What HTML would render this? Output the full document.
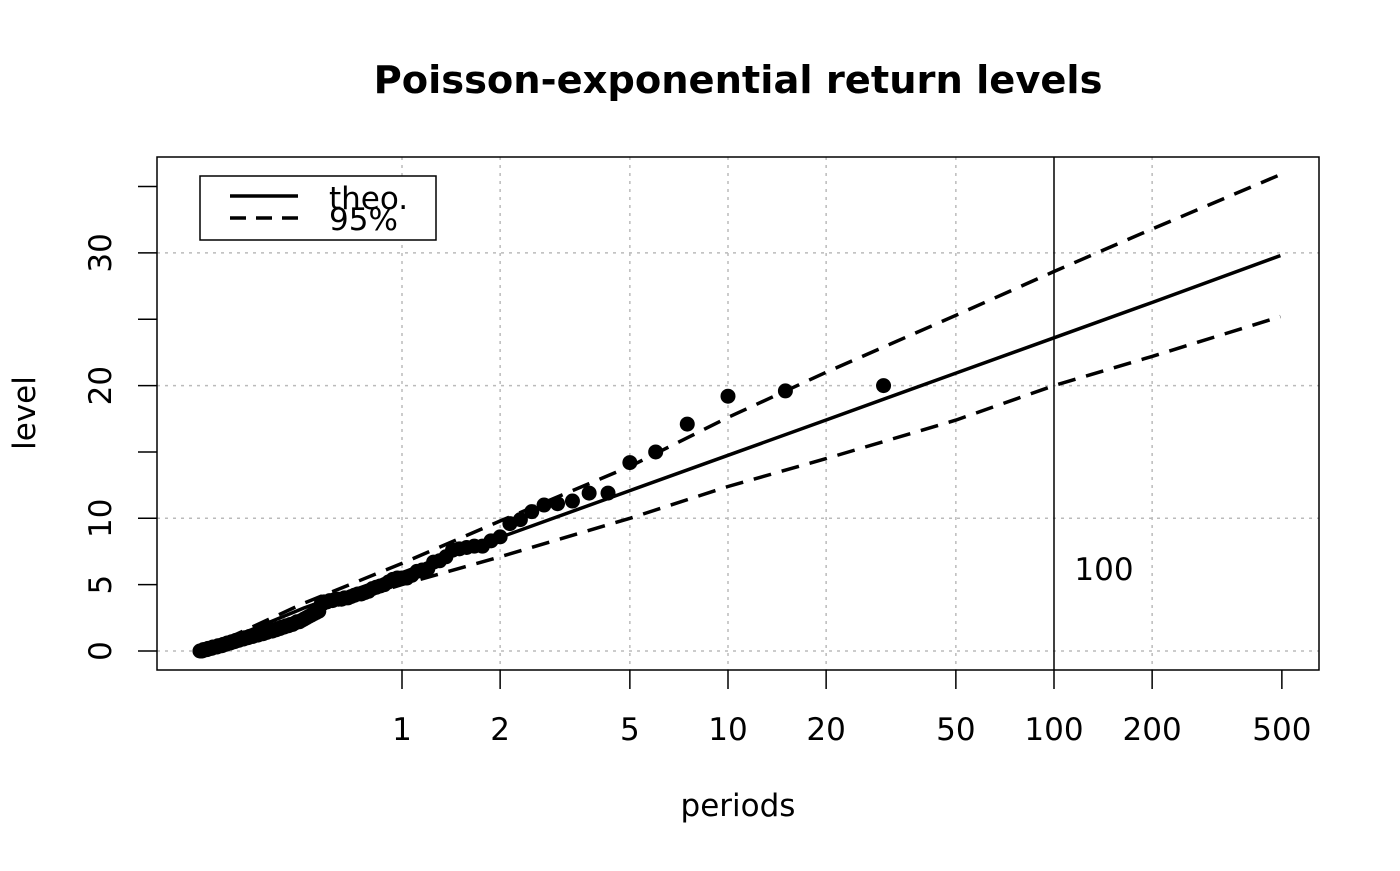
<!DOCTYPE html>
<html><head><meta charset="utf-8"><style>
body{margin:0;background:#fff}
svg text{font-family:"DejaVu Sans","Liberation Sans",sans-serif;fill:#000}
</style></head><body>
<svg id="chart" width="1400" height="866" viewBox="0 0 1400 866">
<text x="738" y="93" text-anchor="middle" font-size="38.4" font-weight="bold">Poisson-exponential return levels</text>
<g id="grid"></g>
<rect x="157" y="157" width="1162" height="513" fill="none" stroke="#000" stroke-width="1.5"/>
<g id="axes"></g>
<g id="lines"></g>
<g id="points"></g>
<text x="738" y="816" text-anchor="middle" font-size="31">periods</text>
<text transform="translate(35,413) rotate(-90)" text-anchor="middle" font-size="31">level</text>
<g>
<rect x="200" y="176" width="236" height="64" fill="#fff" stroke="#000" stroke-width="1.5"/>
<line x1="230" y1="196" x2="298" y2="196" stroke="#000" stroke-width="3.5"/>
<line x1="230" y1="218" x2="298" y2="218" stroke="#000" stroke-width="3.5" stroke-dasharray="16,10"/>
<text x="329" y="209" font-size="31">theo.</text>
<text x="329" y="230" font-size="31">95%</text>
</g>
</svg>
<script>
const nYears = 30;
const levels = [20.0,19.6,19.2,17.1,15.0,14.2,11.9,11.9,11.3,11.1,11.0,10.5,9.9,9.6,
8.6,8.3,7.9,7.9,7.8,7.7,7.6,7.1,6.8,6.7,6.2,6.1,6.0,5.7,5.5,5.5,5.5,5.4,5.2,5.0,4.9,4.8,4.7,4.5,4.4,4.3,4.3,4.2,4.1,4.0,4.0,3.9,3.9,3.9,3.8,3.8,3.7,3.7,3.6,3.0,2.9,2.8,2.7,2.6,2.5,2.4,
2.3,2.2,2.2,2.1,2.0,2.0,1.9,1.9,1.8,1.8,1.7,1.7,1.6,1.6,1.5,1.5,1.5,1.4,1.4,1.3,1.3,1.3,1.2,1.2,1.2,1.1,1.1,1.1,1.0,1.0,1.0,0.9,0.9,0.9,0.8,0.8,0.8,0.7,0.7,0.7,0.6,0.6,0.6,0.5,0.5,0.5,0.4,0.4,0.4,0.4,0.3,0.3,0.3,0.3,0.2,0.2,0.2,0.2,0.1,0.1,0.1,0.1,0.0,0.0,0.0];
const linePeriods = [0.24,0.5,1,2,5,10,20,50,100,200,495];
const theoLevels = [0.0,3.24,5.9,8.56,12.09,14.75,17.41,20.94,23.6,26.26,29.8];
const upperLevels = [0.0,3.6,6.6,9.8,13.9,17.6,21.0,25.3,28.6,31.8,35.9];
const lowerLevels = [0.0,2.7,5.0,7.1,10.0,12.4,14.5,17.4,20.0,22.2,25.2];
const xTicks = [1,2,5,10,20,50,100,200,500];
const xGrid = [1,2,5,10,20,50,200];
const yTicks = [0,5,10,15,20,25,30,35];
const yLabels = [0,5,10,20,30];
const yGrid = [0,10,20,30];
const markPeriod = 100;

const NS='http://www.w3.org/2000/svg';
const X = p => 402 + 326*Math.log10(p);
const Y = v => 651 - 13.27*v;
function mk(tag, attrs, parent){const e=document.createElementNS(NS,tag);for(const k in attrs)e.setAttribute(k,attrs[k]);document.getElementById(parent).appendChild(e);return e;}

yGrid.forEach(v=>{const e=mk('line',{x1:157,x2:1319,y1:Y(v),y2:Y(v),stroke:'#bbb','stroke-width':1.5,'stroke-dasharray':'3,5'},'grid');

});
xGrid.forEach(p=>{const e=mk('line',{x1:X(p),x2:X(p),y1:157,y2:670,stroke:'#bbb','stroke-width':1.5,'stroke-dasharray':'3,5'},'grid');

});
const vl=mk('line',{x1:X(markPeriod),x2:X(markPeriod),y1:157,y2:670,stroke:'#000','stroke-width':1.5},'grid');


const vt=mk('text',{x:X(markPeriod)+50,y:580,'font-size':31,'text-anchor':'middle'},'grid');vt.textContent=markPeriod;



xTicks.forEach(p=>{const t=mk('line',{x1:X(p),x2:X(p),y1:670,y2:689,stroke:'#000','stroke-width':1.5},'axes');


const l=mk('text',{x:X(p),y:740,'font-size':31,'text-anchor':'middle'},'axes');l.textContent=p;

});
yTicks.forEach(v=>{const t=mk('line',{x1:138,x2:157,y1:Y(v),y2:Y(v),stroke:'#000','stroke-width':1.5},'axes');

});
yLabels.forEach(v=>{const l=mk('text',{transform:`translate(111,${Y(v)}) rotate(-90)`,'font-size':31,'text-anchor':'middle'},'axes');l.textContent=v;

});

function line(vals,dash,name){const d=linePeriods.map((p,i)=>(i?'L':'M')+X(p).toFixed(1)+','+Y(vals[i]).toFixed(1)).join(' ');
const e=mk('path',{d:d,fill:'none',stroke:'#000','stroke-width':3.5,'stroke-dasharray':dash},'lines');

}
line(theoLevels,'none','theo-line');
line(upperLevels,'18,11','upper-95-line');
line(lowerLevels,'18,11','lower-95-line');

levels.forEach((v,i)=>{const c=mk('circle',{cx:X(nYears/(i+1)),cy:Y(v),r:7.5,fill:'#000'},'points');

});
</script>
</body></html>
